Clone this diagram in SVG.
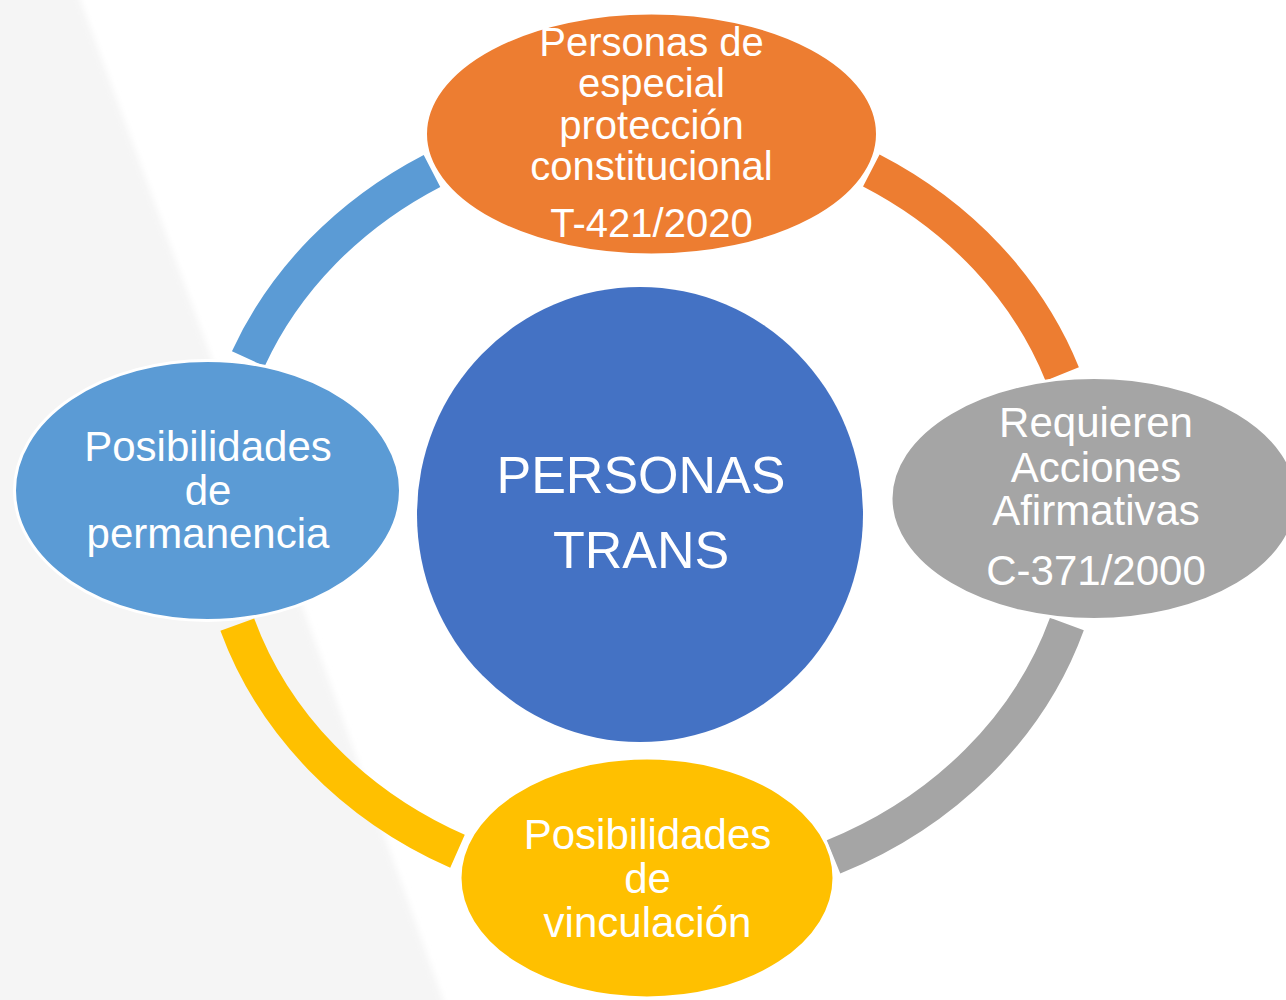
<svg xmlns="http://www.w3.org/2000/svg" width="1286" height="1000" viewBox="0 0 1286 1000">
<style>
.arc{fill:none;stroke-width:36;stroke-linecap:butt}
.node{stroke:#FFFFFF;stroke-width:3}
.t{font-family:"Liberation Sans",Arial,sans-serif;fill:#FFFFFF;text-anchor:middle}
</style>
<defs>
<filter id="soft" x="-10%" y="-10%" width="120%" height="120%"><feGaussianBlur stdDeviation="3"/></filter>
</defs>
<rect width="1286" height="1000" fill="#FFFFFF"/>
<polygon points="-20,-20 78,-20 80,0 300,600 443,1000 445,1020 -20,1020" fill="#F5F5F5" filter="url(#soft)"/>
<g id="connectors">
<path class="arc" stroke="#ED7D31" d="M871.3,170.5 A436,387 0 0 1 1062.2,373.9"/>
<path class="arc" stroke="#A5A5A5" d="M1066.9,624 A436,387 0 0 1 833.5,856.9"/>
<path class="arc" stroke="#FFC000" d="M457.5,851.3 A436,387 0 0 1 237.3,624.6"/>
<path class="arc" stroke="#5B9BD5" d="M248.3,358.8 A436,387 0 0 1 432,170.9"/>
</g>
<g id="center">
<ellipse cx="640" cy="514.5" rx="223" ry="227.5" fill="#4472C4"/>
<text class="t" font-size="52" x="641" y="493">PERSONAS</text>
<text class="t" font-size="52" x="641" y="568">TRANS</text>
</g>
<g id="node-top">
<ellipse class="node" cx="651.5" cy="134" rx="226" ry="121" fill="#ED7D31"/>
<text class="t" font-size="40" x="651.5" y="56">Personas de</text>
<text class="t" font-size="40" x="651.5" y="97">especial</text>
<text class="t" font-size="40" x="651.5" y="138.5">protección</text>
<text class="t" font-size="40" x="651.5" y="180">constitucional</text>
<text class="t" font-size="40" x="651.5" y="237">T-421/2020</text>
</g>
<g id="node-right">
<ellipse class="node" cx="1094" cy="498.5" rx="203" ry="121" fill="#A5A5A5"/>
<text class="t" font-size="42" x="1096" y="437">Requieren</text>
<text class="t" font-size="42" x="1096" y="481.5">Acciones</text>
<text class="t" font-size="42" x="1096" y="525">Afirmativas</text>
<text class="t" font-size="42" x="1096" y="585">C-371/2000</text>
</g>
<g id="node-bottom">
<ellipse class="node" cx="647" cy="878" rx="187" ry="120" fill="#FFC000"/>
<text class="t" font-size="42" x="647.5" y="849">Posibilidades</text>
<text class="t" font-size="42" x="647.5" y="893">de</text>
<text class="t" font-size="42" x="647.5" y="937">vinculación</text>
</g>
<g id="node-left">
<ellipse class="node" cx="207.5" cy="490.5" rx="193" ry="130" fill="#5B9BD5"/>
<text class="t" font-size="42" x="208" y="461">Posibilidades</text>
<text class="t" font-size="42" x="208" y="505">de</text>
<text class="t" font-size="42" x="208" y="548">permanencia</text>
</g>
</svg>
